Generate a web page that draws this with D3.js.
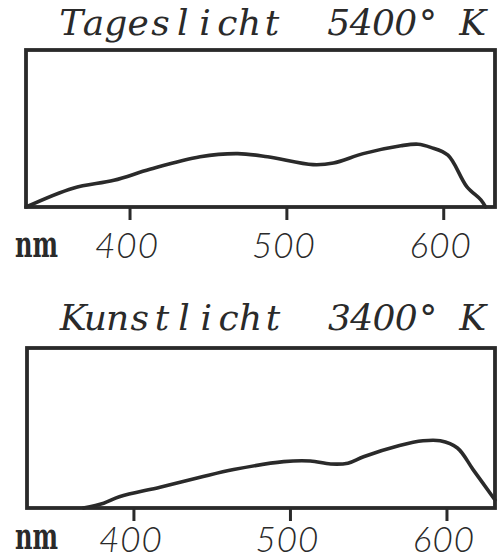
<!DOCTYPE html>
<html>
<head>
<meta charset="utf-8">
<script src="https://cdn.jsdelivr.net/npm/d3@7"></script>
<style>
  html, body { margin: 0; padding: 0; background: #fff; }
  svg { display: block; }
</style>
</head>
<body>
<svg id="chart" width="498" height="558"></svg>
<script>
// Tageslicht 5400 K
const dayWavelength = [334, 364, 390, 413, 445, 469, 488, 517, 530, 549, 573, 584, 592, 603, 615, 624, 627];
const dayValue      = [0,   12,  17,  24,  32,  34,  32,  27,  28,  34,  39,  40,  38,  33,  13,  4.5, 0];

// Kunstlicht 3400 K
const artWavelength = [368, 381, 391, 417, 442, 464, 496, 513, 526, 537, 547, 570, 585, 596, 607, 617, 631];
const artValue      = [0,   3,   7,   13,  19,  24,  29,  29.4, 27.5, 28, 32, 39, 42,  42,  37.5, 24, 5];

const tickValues = [400, 500, 600];
const titles = ["Tageslicht  5400° K", "Kunstlicht  3400° K"];

const ink = "#2a2a2a";
const serif = "'DejaVu Serif', serif";
const sans = "Lato, 'Open Sans', sans-serif";

const panels = [
  { wl: dayWavelength, val: dayValue, title: titles[0],
    left: 26, right: 495, top: 50, bottom: 207, domain: [334, 633],
    titleX: 60, pitch: 22.3, titleY: 35, labelY: 258, unitY: 257 },
  { wl: artWavelength, val: artValue, title: titles[1],
    left: 27, right: 495, top: 348, bottom: 508, domain: [332, 631],
    titleX: 62, pitch: 22.2, titleY: 330, labelY: 552, unitY: 549 }
];

const svg = d3.select("#chart");

// typewriter look: every glyph centred in its own fixed-width cell
function typewriter(g, str, x0, pitch, yBase) {
  const chars = [], xs = [];
  Array.from(str).forEach((c, i) => {
    if (c !== " ") { chars.push(c); xs.push((x0 + pitch * (i + 0.5)).toFixed(1)); }
  });
  g.append("text")
    .attr("x", xs.join(" ")).attr("y", yBase)
    .attr("text-anchor", "middle")
    .attr("fill", ink)
    .style("font-family", serif).style("font-style", "italic")
    .style("font-size", "36px")
    .text(chars.join(""));
}

panels.forEach(p => {
  const x = d3.scaleLinear().domain(p.domain).range([p.left, p.right]);
  const y = d3.scaleLinear().domain([0, 100]).range([p.bottom, p.top]);
  const g = svg.append("g");

  typewriter(g, p.title, p.titleX, p.pitch, p.titleY);

  // axis ticks + labels
  const axis = d3.axisBottom(x).tickValues(tickValues).tickSize(13).tickSizeOuter(0);
  const ax = g.append("g").attr("transform", `translate(0,${p.bottom})`).call(axis);
  ax.select(".domain").remove();
  ax.selectAll(".tick line").attr("stroke", ink).attr("stroke-width", 3);
  ax.selectAll(".tick text")
    .attr("x", -3)
    .attr("y", p.labelY - p.bottom).attr("dy", 0)
    .attr("fill", ink)
    .style("font-family", sans).style("font-style", "italic")
    .style("font-weight", 300)
    .style("font-size", "35px")
    .style("letter-spacing", "1px");

  g.append("text")
    .attr("x", 15).attr("y", p.unitY)
    .attr("fill", ink)
    .attr("textLength", 43).attr("lengthAdjust", "spacingAndGlyphs")
    .style("font-family", serif).style("font-weight", "bold")
    .style("font-size", "37px")
    .text("nm");

  // curve
  const line = d3.line()
    .x((d, i) => x(p.wl[i]))
    .y(d => y(d))
    .curve(d3.curveCatmullRom.alpha(0.5));
  g.append("path")
    .attr("d", line(p.val))
    .attr("fill", "none")
    .attr("stroke", ink)
    .attr("stroke-width", 3.6)
    .attr("stroke-linejoin", "round")
    .attr("stroke-linecap", "round");

  // frame
  g.append("rect")
    .attr("x", p.left).attr("y", p.top)
    .attr("width", p.right - p.left).attr("height", p.bottom - p.top)
    .attr("fill", "none")
    .attr("stroke", ink)
    .attr("stroke-width", 3.8);
});
</script>
</body>
</html>
